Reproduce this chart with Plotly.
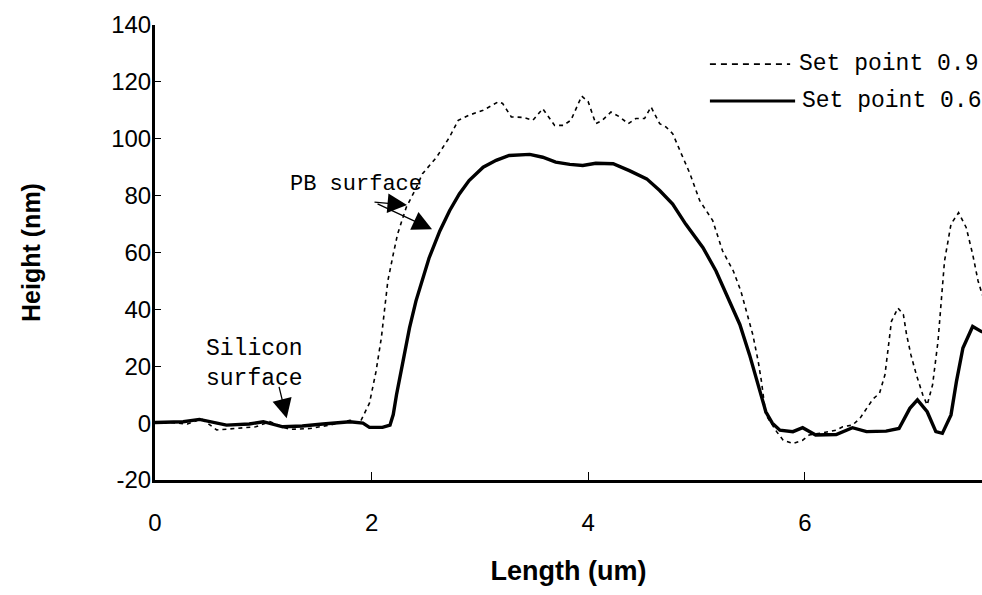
import plotly.graph_objects as go

# ---- data ----
x_sp06 = [0.00, 0.13, 0.26, 0.41, 0.50, 0.66, 0.87, 1.00, 1.18, 1.36, 1.55, 1.67, 1.80, 1.92,
          1.98, 2.10, 2.17, 2.20, 2.23, 2.29, 2.35, 2.41, 2.47, 2.53, 2.63, 2.72, 2.81, 2.90,
          3.03, 3.15, 3.27, 3.46, 3.58, 3.70, 3.83, 3.95, 4.07, 4.23, 4.38, 4.54, 4.66, 4.78,
          4.90, 5.06, 5.18, 5.30, 5.40, 5.49, 5.58, 5.64, 5.70, 5.77, 5.89, 5.98, 6.10, 6.29,
          6.44, 6.57, 6.75, 6.87, 6.97, 7.04, 7.13, 7.21, 7.27, 7.35, 7.40, 7.46, 7.55, 7.64]
y_sp06 = [0.2, 0.3, 0.5, 1.3, 0.5, -0.7, -0.3, 0.5, -1.3, -1.0, -0.3, 0.1, 0.5, 0.0,
          -1.5, -1.5, -0.7, 3.0, 10.0, 21.7, 33.5, 43.0, 51.0, 58.0, 67.6, 74.7, 80.6, 85.3,
          90.0, 92.4, 94.1, 94.5, 93.5, 91.8, 91.0, 90.6, 91.4, 91.2, 88.8, 85.9, 81.8, 77.0,
          70.0, 61.7, 53.5, 42.9, 34.7, 24.0, 12.3, 4.0, 0.0, -2.5, -3.0, -1.6, -4.2, -4.0,
          -1.6, -3.0, -2.8, -1.9, 5.2, 8.2, 4.0, -3.0, -3.6, 2.9, 14.6, 26.4, 34.0, 32.0]

x_sp09 = [0.00, 0.15, 0.30, 0.43, 0.57, 0.75, 0.93, 1.06, 1.24, 1.43, 1.61, 1.80, 1.89, 1.98,
          2.04, 2.09, 2.12, 2.15, 2.20, 2.24, 2.32, 2.40, 2.47, 2.60, 2.72, 2.80, 2.90, 3.03,
          3.17, 3.21, 3.29, 3.40, 3.49, 3.58, 3.69, 3.77, 3.84, 3.89, 3.94, 4.00, 4.07, 4.13,
          4.21, 4.29, 4.37, 4.44, 4.52, 4.58, 4.66, 4.72, 4.78, 4.86, 4.94, 5.03, 5.15, 5.24,
          5.34, 5.41, 5.46, 5.52, 5.57, 5.60, 5.64, 5.74, 5.80, 5.89, 5.98, 6.04, 6.15, 6.29,
          6.35, 6.44, 6.51, 6.57, 6.63, 6.69, 6.74, 6.77, 6.80, 6.86, 6.91, 6.94, 6.98, 7.03,
          7.09, 7.13, 7.18, 7.23, 7.26, 7.29, 7.35, 7.42, 7.49, 7.55, 7.60, 7.64]
y_sp09 = [0.0, 0.2, -0.3, 1.5, -2.4, -1.9, -1.3, 0.5, -2.2, -1.9, -0.7, 1.0, 0.0, 7.0,
          18.0, 30.0, 40.5, 50.0, 59.4, 66.5, 75.9, 81.8, 87.7, 93.5, 100.6, 106.5, 108.3, 110.0,
          113.0, 112.4, 107.7, 107.5, 106.5, 110.6, 104.7, 104.7, 106.5, 111.0, 115.0, 113.0, 105.3, 106.5,
          109.4, 107.7, 105.3, 107.1, 107.1, 111.2, 105.3, 104.1, 101.8, 94.7, 87.7, 78.2, 71.2, 60.6,
          53.5, 46.4, 39.4, 31.1, 21.7, 14.6, 2.9, -3.0, -6.0, -7.2, -6.0, -4.2, -3.5, -2.5,
          -1.3, -0.7, 1.7, 5.2, 8.5, 10.5, 17.0, 26.4, 35.8, 40.5, 38.2, 31.1, 24.0, 17.0,
          9.9, 6.4, 13.5, 28.8, 44.0, 57.0, 70.0, 74.0, 68.8, 59.4, 50.0, 45.0]

series_names = ["Set point 0.9", "Set point 0.6"]
x_ticks = [0, 2, 4, 6]
y_ticks = [-20, 0, 20, 40, 60, 80, 100, 120, 140]

MONO = "Liberation Mono, DejaVu Sans Mono, monospace"
SANS = "Liberation Sans, Arial, sans-serif"

fig = go.Figure()
fig.add_trace(go.Scatter(x=x_sp09, y=y_sp09, mode="lines", name=series_names[0],
                         line=dict(color="black", width=1.6, dash="4px,4px"), showlegend=False))
fig.add_trace(go.Scatter(x=x_sp06, y=y_sp06, mode="lines", name=series_names[1],
                         line=dict(color="black", width=3.4), showlegend=False))

# manual legend (long sample lines as in the reference)
fig.add_shape(type="line", xref="paper", yref="paper", x0=0.671, x1=0.768, y0=0.914, y1=0.914,
              line=dict(color="black", width=1.8, dash="6px,5px"))
fig.add_shape(type="line", xref="paper", yref="paper", x0=0.671, x1=0.774, y0=0.833, y1=0.833,
              line=dict(color="black", width=3))
fig.add_annotation(xref="paper", yref="paper", x=0.776, y=0.914, text=series_names[0],
                   showarrow=False, xanchor="left", yanchor="middle",
                   font=dict(family=MONO, size=23, color="black"))
fig.add_annotation(xref="paper", yref="paper", x=0.780, y=0.833, text=series_names[1],
                   showarrow=False, xanchor="left", yanchor="middle",
                   font=dict(family=MONO, size=23, color="black"))

# text labels with arrows
fig.add_annotation(x=1.22, y=-0.3, xref="x", yref="y", text="Silicon<br>surface",
                   showarrow=False, xanchor="center", yanchor="bottom",
                   xshift=-33, yshift=30, align="center",
                   font=dict(family=MONO, size=23, color="black"))
fig.add_annotation(x=1.216, y=1.7, xref="x", yref="y", text="", showarrow=True,
                   ax=-8, ay=-33, arrowhead=2, arrowsize=3.0, arrowwidth=1.3, arrowcolor="black")
fig.add_annotation(x=1.86, y=84.0, xref="x", yref="y", text="PB surface",
                   showarrow=False, xanchor="center", yanchor="middle",
                   font=dict(family=MONO, size=22, color="black"))
fig.add_annotation(x=2.327, y=76.7, xref="x", yref="y", text="", showarrow=True,
                   ax=-34, ay=-3, arrowhead=2, arrowsize=3.0, arrowwidth=1.3, arrowcolor="black")
fig.add_annotation(x=2.558, y=68.2, xref="x", yref="y", text="", showarrow=True,
                   ax=-56, ay=-26, arrowhead=2, arrowsize=3.0, arrowwidth=1.3, arrowcolor="black")

fig.update_layout(
    width=982, height=595,
    margin=dict(l=155, r=0, t=25, b=115, autoexpand=False),
    paper_bgcolor="white", plot_bgcolor="white",
    showlegend=False,
    font=dict(family=SANS, size=24, color="black"),
)
fig.update_xaxes(
    range=[0, 827 / 108.3], tickvals=x_ticks, ticktext=[str(v) for v in x_ticks],
    showline=True, linewidth=3, linecolor="black", mirror=False,
    showgrid=False, zeroline=False,
    ticks="inside", ticklen=8, tickwidth=1.2, tickcolor="black",
    tickfont=dict(family=SANS, size=24, color="black"), ticklabelstandoff=19,
    title=dict(text="Length (um)", font=dict(family=SANS, size=27, color="black", weight="bold"),
               standoff=27),
    automargin=False,
)
fig.update_yaxes(
    range=[-20, 140], tickvals=y_ticks, ticktext=[str(v) for v in y_ticks],
    showline=True, linewidth=3, linecolor="black", mirror=False,
    showgrid=False, zeroline=False,
    ticks="inside", ticklen=6, tickwidth=1.2, tickcolor="black",
    tickfont=dict(family=SANS, size=24, color="black"), ticklabelstandoff=-4,
    title=dict(text="Height (nm)", font=dict(family=SANS, size=25, color="black", weight="bold"),
               standoff=64),
    automargin=False,
)

fig.write_html("out.html", config={"displayModeBar": False})
